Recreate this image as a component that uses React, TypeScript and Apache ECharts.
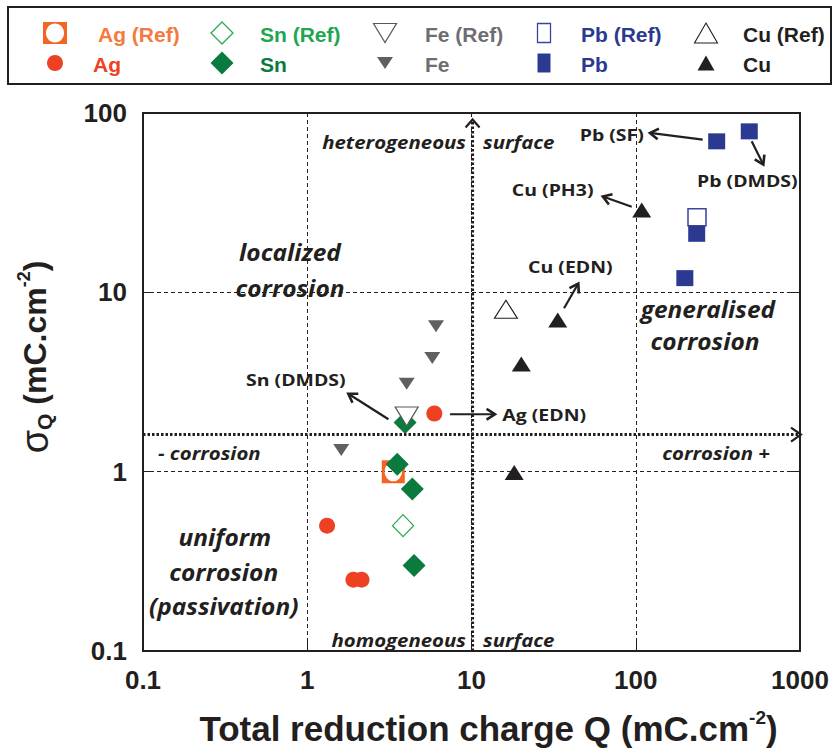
import React, { useEffect, useRef } from "react";
import * as echarts from "echarts";

// ---------- data (Q in mC.cm-2, sigma_Q in mC.cm-2) ----------
const agRefQ = [3.34];
const agRefS = [1.0];
const agQ = [5.94, 1.32, 1.91, 2.14];
const agS = [2.11, 0.5, 0.25, 0.25];
const snRefQ = [3.83];
const snRefS = [0.5];
const snQ = [3.94, 3.53, 4.36, 4.47];
const snS = [1.88, 1.1, 0.8, 0.3];
const feRefQ = [4.03];
const feRefS = [2.03];
const feQ = [6.08, 5.77, 4.03, 1.61];
const feS = [6.47, 4.31, 3.09, 1.32];
const pbRefQ = [236];
const pbRefS = [26.2];
const pbQ = [311, 491, 235, 199];
const pbS = [69.5, 79, 21.2, 12.0];
const cuRefQ = [16.2];
const cuRefS = [8.04];
const cuQ = [108.7, 33.5, 20.1, 18.2];
const cuS = [28.8, 7.02, 3.99, 0.99];

const xTickLabels = ["0.1", "1", "10", "100", "1000"];
const yTickLabels = ["0.1", "1", "10", "100"];

const legendNames = [
  ["Ag (Ref)", "Ag"],
  ["Sn (Ref)", "Sn"],
  ["Fe (Ref)", "Fe"],
  ["Pb (Ref)", "Pb"],
  ["Cu (Ref)", "Cu"],
];

// annotation anchors in data coordinates
const regionTexts = [
  { t: "heterogeneous", q: 9.26, s: 68.4, align: "right", kind: "it" },
  { t: "surface", q: 11.75, s: 68.4, align: "left", kind: "it" },
  { t: "homogeneous", q: 9.26, s: 0.1155, align: "right", kind: "it" },
  { t: "surface", q: 11.75, s: 0.1155, align: "left", kind: "it" },
  { t: "localized", q: 0.785, s: 16.8, align: "center", kind: "big" },
  { t: "corrosion", q: 0.785, s: 10.6, align: "center", kind: "big" },
  { t: "generalised", q: 275, s: 8.15, align: "center", kind: "big" },
  { t: "corrosion", q: 264, s: 5.35, align: "center", kind: "big" },
  { t: "uniform", q: 0.315, s: 0.435, align: "center", kind: "big" },
  { t: "corrosion", q: 0.31, s: 0.278, align: "center", kind: "big" },
  { t: "(passivation)", q: 0.31, s: 0.178, align: "center", kind: "big" },
  { t: "- corrosion", q: 0.1234, s: 1.268, align: "left", kind: "it" },
  { t: "corrosion +", q: 656, s: 1.268, align: "right", kind: "it" },
  { t: "Sn (DMDS)", q: 0.424, s: 3.25, align: "left", kind: "lab" },
  { t: "Ag (EDN)", q: 15.4, s: 2.08, align: "left", kind: "lab" },
  { t: "Pb (SF)", q: 112, s: 76.2, align: "right", kind: "lab" },
  { t: "Pb (DMDS)", q: 236, s: 41.9, align: "left", kind: "lab" },
  { t: "Cu (PH3)", q: 17.6, s: 37.6, align: "left", kind: "lab" },
  { t: "Cu (EDN)", q: 22.1, s: 13.9, align: "left", kind: "lab" },
];

const arrows = [
  { from: [3.12, 1.96], to: [1.778, 2.72] },
  { from: [7.4, 2.09], to: [13.9, 2.09] },
  { from: [255.6, 71.1], to: [122, 77.4] },
  { from: [508, 69.5], to: [598, 51.6] },
  { from: [94.5, 30.0], to: [63, 34.2] },
  { from: [36.6, 8.15], to: [44.7, 11.2] },
];

// thick dotted separators (data coords)
const vSepQ = 10.15;
const vSepTop = 92;
const hSepS = 1.61;

// ---------- styles ----------
const INK = "#231F20";
const AX_FONT = "'Liberation Sans', Arial, sans-serif";
const AN_FONT = "'Open Sans', sans-serif";

const C = {
  agRef: "#F26522",
  ag: "#EE4124",
  agRefText: "#F47A3D",
  snRef: "#2BAA55",
  snRefText: "#22A550",
  sn: "#0B7A3E",
  feRef: "#58595B",
  fe: "#5F6062",
  feText: "#6D6E71",
  pbRef: "#3A47A0",
  pb: "#2B3990",
  cu: INK,
};

const AG_REF_PATH =
  "path://M0,0H100V100H0Z M50,8A38,42 0 1,0 50,92A38,42 0 1,0 50,8Z";

function pair(q: number[], s: number[]) {
  return q.map((v, i) => [v, s[i]]);
}

function nearestLabel(v: number, labels: string[]) {
  let best = labels[0];
  let d = Infinity;
  for (const l of labels) {
    const dd = Math.abs(Math.log10(parseFloat(l)) - Math.log10(v));
    if (dd < d) {
      d = dd;
      best = l;
    }
  }
  return best;
}

const splitStyle = { type: [4, 3] as any, color: INK, width: 1 };

const option: any = {
  animation: false,
  backgroundColor: "#ffffff",
  grid: {
    left: 143,
    top: 113,
    right: 34,
    bottom: 98,
    show: true,
    borderWidth: 2,
    borderColor: INK,
    backgroundColor: "transparent",
  },
  xAxis: {
    type: "log",
    logBase: 10,
    min: 0.1,
    max: 1000,
    axisLine: { show: false },
    axisTick: { show: true, inside: true, length: 10, lineStyle: { color: INK, width: 1 } },
    minorTick: { show: false },
    splitLine: { show: true, lineStyle: splitStyle },
    axisLabel: {
      fontSize: 26,
      fontWeight: "bold",
      color: INK,
      fontFamily: AX_FONT,
      margin: 16,
      formatter: (v: number) => nearestLabel(v, xTickLabels),
    },
    name: "Total reduction charge Q (mC.cm{sup|-2})",
    nameLocation: "middle",
    nameGap: 57,
    nameTextStyle: {
      fontSize: 35,
      fontWeight: "bold",
      color: INK,
      fontFamily: AX_FONT,
      lineHeight: 40,
      padding: [0, 0, 0, 34],
      rich: {
        sup: {
          fontSize: 19,
          fontWeight: "bold",
          color: INK,
          fontFamily: AX_FONT,
          lineHeight: 19,
          verticalAlign: "top",
        },
      },
    },
  },
  yAxis: [
    {
      type: "log",
      logBase: 10,
      min: 0.1,
      max: 100,
      axisLine: { show: false },
      axisTick: { show: true, inside: true, length: 10, lineStyle: { color: INK, width: 1 } },
      splitLine: { show: true, lineStyle: splitStyle },
      axisLabel: {
        fontSize: 26,
        fontWeight: "bold",
        color: INK,
        fontFamily: AX_FONT,
        margin: 16,
        formatter: (v: number) => nearestLabel(v, yTickLabels),
      },
      name: "{sig|σ}{sub|Q}{b| (mC.cm}{sup|-2}{b|)}",
      nameLocation: "middle",
      nameRotate: 90,
      nameGap: 88,
      nameTextStyle: {
        color: INK,
        padding: [0, 0, 0, 50],
        rich: {
          sig: { fontSize: 38, fontWeight: "normal", fontFamily: AX_FONT, color: INK, lineHeight: 40 },
          sub: {
            fontSize: 21,
            fontWeight: "bold",
            fontFamily: AX_FONT,
            color: INK,
            lineHeight: 21,
            verticalAlign: "bottom",
          },
          b: { fontSize: 32, fontWeight: "bold", fontFamily: AX_FONT, color: INK, lineHeight: 40 },
          sup: {
            fontSize: 18,
            fontWeight: "bold",
            fontFamily: AX_FONT,
            color: INK,
            lineHeight: 18,
            verticalAlign: "top",
          },
        },
      },
    },
    {
      type: "log",
      logBase: 10,
      min: 0.1,
      max: 100,
      position: "right",
      axisLine: { show: false },
      axisTick: { show: true, inside: true, length: 10, lineStyle: { color: INK, width: 1 } },
      splitLine: { show: false },
      axisLabel: { show: false },
    },
  ],
  series: [
    {
      name: "Ag (Ref)",
      type: "scatter",
      data: pair(agRefQ, agRefS),
      symbol: AG_REF_PATH,
      symbolSize: 23,
      itemStyle: { color: C.agRef, opacity: 1 },
    },
    {
      name: "Sn (Ref)",
      type: "scatter",
      data: pair(snRefQ, snRefS),
      symbol: "diamond",
      symbolSize: [21, 22],
      itemStyle: { color: "#ffffff", borderColor: C.snRef, borderWidth: 1.3, opacity: 1 },
    },
    {
      name: "Sn",
      type: "scatter",
      data: pair(snQ, snS),
      symbol: "diamond",
      symbolSize: [23, 23],
      itemStyle: { color: C.sn, opacity: 1 },
    },
    {
      name: "Ag",
      type: "scatter",
      data: pair(agQ, agS),
      symbol: "circle",
      symbolSize: 16,
      itemStyle: { color: C.ag, opacity: 1 },
    },
    {
      name: "Fe (Ref)",
      type: "scatter",
      data: pair(feRefQ, feRefS),
      symbol: "triangle",
      symbolRotate: 180,
      symbolSize: [23, 19],
      itemStyle: { color: "#ffffff", borderColor: C.feRef, borderWidth: 1.2, opacity: 1 },
    },
    {
      name: "Fe",
      type: "scatter",
      data: pair(feQ, feS),
      symbol: "triangle",
      symbolRotate: 180,
      symbolSize: [16, 12],
      itemStyle: { color: C.fe, opacity: 1 },
    },
    {
      name: "Pb (Ref)",
      type: "scatter",
      data: pair(pbRefQ, pbRefS),
      symbol: "rect",
      symbolSize: [18, 17],
      itemStyle: { color: "#ffffff", borderColor: C.pbRef, borderWidth: 1.5, opacity: 1 },
    },
    {
      name: "Pb",
      type: "scatter",
      data: pair(pbQ, pbS),
      symbol: "rect",
      symbolSize: [17, 16],
      itemStyle: { color: C.pb, opacity: 1 },
    },
    {
      name: "Cu (Ref)",
      type: "scatter",
      data: pair(cuRefQ, cuRefS),
      symbol: "triangle",
      symbolSize: [23, 18],
      itemStyle: { color: "#ffffff", borderColor: C.cu, borderWidth: 1.1, opacity: 1 },
    },
    {
      name: "Cu",
      type: "scatter",
      data: pair(cuQ, cuS),
      symbol: "triangle",
      symbolSize: [19, 15],
      itemStyle: { color: C.cu, opacity: 1 },
    },
  ],
};

function arrowEls(a: number[], b: number[], head = 10) {
  const [x1, y1] = a;
  const [x2, y2] = b;
  const ang = Math.atan2(y2 - y1, x2 - x1);
  const w = Math.PI / 5.5;
  const p1 = [x2 - head * Math.cos(ang - w), y2 - head * Math.sin(ang - w)];
  const p2 = [x2 - head * Math.cos(ang + w), y2 - head * Math.sin(ang + w)];
  return [
    { type: "line", silent: true, z: 20, shape: { x1, y1, x2, y2 }, style: { stroke: INK, lineWidth: 2.2 } },
    {
      type: "polyline",
      silent: true,
      z: 20,
      shape: { points: [p1, [x2, y2], p2] },
      style: { stroke: INK, lineWidth: 2.6, fill: "none" },
    },
  ];
}

function textEl(t: string, x: number, y: number, font: string, fill: string, align: string, scaleX = 1) {
  return {
    type: "text",
    silent: true,
    z: 30,
    x,
    y,
    scaleX,
    style: {
      text: t,
      font,
      fill,
      align,
      verticalAlign: "middle",
      textAlign: align,
      textVerticalAlign: "middle",
    },
  };
}

function legendEls() {
  const els: any[] = [];
  els.push({
    type: "rect",
    silent: true,
    shape: { x: 8, y: 7, width: 823, height: 77 },
    style: { fill: "none", stroke: INK, lineWidth: 2 },
  });
  const colX = [55, 222, 385, 544, 706];
  const textX = [[98, 93], [260, 260], [425, 425], [581, 581], [743, 743]];
  const rowY = [33, 63];
  const textColors = [
    [C.agRefText, C.ag],
    [C.snRefText, C.sn],
    [C.feText, C.feText],
    [C.pb, C.pb],
    [INK, INK],
  ];
  const f = `bold 21px ${AX_FONT}`;
  legendNames.forEach((pairNames, ci) => {
    pairNames.forEach((nm, ri) => {
      els.push(textEl(nm, textX[ci][ri], rowY[ri] + 1.5, f, textColors[ci][ri], "left"));
    });
  });
  const cx = colX;
  const y0 = rowY[0];
  const y1 = rowY[1];
  // Ag
  els.push({ type: "rect", silent: true, shape: { x: cx[0] - 12, y: y0 - 11, width: 24, height: 22 }, style: { fill: C.agRef } });
  els.push({ type: "ellipse", silent: true, shape: { cx: cx[0], cy: y0, rx: 9, ry: 9.5 }, style: { fill: "#ffffff" } });
  els.push({ type: "circle", silent: true, shape: { cx: cx[0], cy: y1, r: 8 }, style: { fill: C.ag } });
  // Sn
  const dia = (x: number, y: number, h: number) => [[x, y - h], [x + h, y], [x, y + h], [x - h, y]];
  els.push({ type: "polygon", silent: true, shape: { points: dia(cx[1], y0, 11) }, style: { fill: "#ffffff", stroke: C.snRef, lineWidth: 1.3 } });
  els.push({ type: "polygon", silent: true, shape: { points: dia(cx[1], y1, 11.5) }, style: { fill: C.sn } });
  // Fe
  const inv = (x: number, y: number, w: number, h: number) => [[x - w / 2, y - h / 2], [x + w / 2, y - h / 2], [x, y + h / 2]];
  els.push({ type: "polygon", silent: true, shape: { points: inv(cx[2], y0, 23, 19) }, style: { fill: "#ffffff", stroke: C.feRef, lineWidth: 1.2 } });
  els.push({ type: "polygon", silent: true, shape: { points: inv(cx[2], y1, 16, 12) }, style: { fill: C.fe } });
  // Pb
  els.push({ type: "rect", silent: true, shape: { x: cx[3] - 6.5, y: y0 - 9.5, width: 13, height: 19 }, style: { fill: "#ffffff", stroke: C.pbRef, lineWidth: 1.3 } });
  els.push({ type: "rect", silent: true, shape: { x: cx[3] - 6.5, y: y1 - 9.5, width: 13, height: 19 }, style: { fill: C.pb } });
  // Cu
  const up = (x: number, y: number, w: number, h: number) => [[x, y - h / 2], [x + w / 2, y + h / 2], [x - w / 2, y + h / 2]];
  els.push({ type: "polygon", silent: true, shape: { points: up(cx[4], y0, 23, 20) }, style: { fill: "#ffffff", stroke: INK, lineWidth: 1.1 } });
  els.push({ type: "polygon", silent: true, shape: { points: up(cx[4], y1, 17, 15) }, style: { fill: INK } });
  return els;
}

function buildGraphics(toPx: (p: number[]) => number[]) {
  const els: any[] = [...legendEls()];
  // thick dotted separators
  const vb = toPx([vSepQ, 0.1]);
  const vt = toPx([vSepQ, vSepTop]);
  els.push({
    type: "line",
    silent: true,
    z: 5,
    shape: { x1: vb[0], y1: vb[1], x2: vt[0], y2: vt[1] },
    style: { stroke: INK, lineWidth: 3, lineDash: [2.5, 2] },
  });
  els.push({
    type: "polyline",
    silent: true,
    z: 5,
    shape: { points: [[vt[0] - 7, vt[1] + 8], [vt[0], vt[1]], [vt[0] + 7, vt[1] + 8]] },
    style: { stroke: INK, lineWidth: 2.2, fill: "none" },
  });
  const hl = toPx([0.1, hSepS]);
  const hr = toPx([1000, hSepS]);
  els.push({
    type: "line",
    silent: true,
    z: 5,
    shape: { x1: hl[0], y1: hl[1], x2: hr[0] - 2, y2: hr[1] },
    style: { stroke: INK, lineWidth: 3, lineDash: [2.5, 2] },
  });
  els.push({
    type: "polyline",
    silent: true,
    z: 5,
    shape: { points: [[hr[0] - 9, hr[1] - 7], [hr[0] + 1, hr[1]], [hr[0] - 9, hr[1] + 7]] },
    style: { stroke: INK, lineWidth: 2.2, fill: "none" },
  });
  // arrows
  arrows.forEach((a) => {
    els.push(...arrowEls(toPx(a.from), toPx(a.to)));
  });
  // texts
  const fonts: Record<string, string> = {
    it: `italic bold 17px ${AN_FONT}`,
    big: `italic bold 24px ${AN_FONT}`,
    lab: `bold 16.5px ${AN_FONT}`,
  };
  const sx: Record<string, number> = { it: 1.2, big: 1.02, lab: 1.18 };
  regionTexts.forEach((r) => {
    const p = toPx([r.q, r.s]);
    els.push(textEl(r.t, p[0], p[1], fonts[r.kind], INK, r.align, sx[r.kind]));
  });
  return els;
}

export default function App() {
  const ref = useRef<HTMLDivElement>(null);
  useEffect(() => {
    document.body.style.margin = "0";
    const chart = echarts.init(ref.current as HTMLDivElement, null, { renderer: "svg" });
    chart.setOption(option);
    const toPx = (p: number[]) =>
      chart.convertToPixel({ xAxisIndex: 0, yAxisIndex: 0 }, p) as unknown as number[];
    chart.setOption({ graphic: buildGraphics(toPx) });
    return () => chart.dispose();
  }, []);
  return <div ref={ref} style={{ width: 834, height: 753, background: "#fff" }} />;
}
